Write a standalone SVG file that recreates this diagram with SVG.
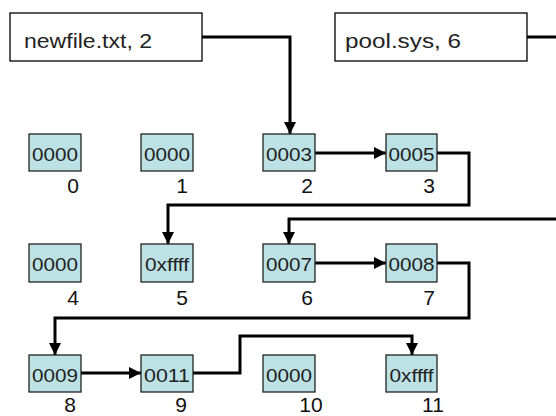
<svg xmlns="http://www.w3.org/2000/svg" width="556" height="416" viewBox="0 0 556 416">
<style>
.file{fill:#fff;stroke:#000;stroke-width:1.3}
.ft{font-family:"Liberation Sans",Arial,sans-serif;font-size:20px;fill:#222}
.blk{fill:#bce2e5;stroke:#222;stroke-width:1.3}
.bt{font-family:"Liberation Sans",Arial,sans-serif;font-size:19px;fill:#222;text-anchor:middle}
.lb{font-family:"Liberation Sans",Arial,sans-serif;font-size:21px;fill:#111;text-anchor:middle}
.c{fill:none;stroke:#000;stroke-width:3}
</style>
<defs>
<marker id="ah" viewBox="0 0 12 12" refX="12" refY="6" markerWidth="12" markerHeight="12" markerUnits="userSpaceOnUse" orient="auto">
<path d="M0,0 L12,6 L0,12 Z" fill="#000"/>
</marker>
</defs>
<g id="connectors">
<path class="c" d="M202,37 H290 V134" marker-end="url(#ah)"/>
<path class="c" d="M527,37 H560"/>
<path class="c" d="M315,153 H386" marker-end="url(#ah)"/>
<path class="c" d="M437,153 H469 V205 H168 V244" marker-end="url(#ah)"/>
<path class="c" d="M560,219 H289 V244" marker-end="url(#ah)"/>
<path class="c" d="M315,263 H386" marker-end="url(#ah)"/>
<path class="c" d="M437,263 H469 V318 H55 V355" marker-end="url(#ah)"/>
<path class="c" d="M81,373 H141" marker-end="url(#ah)"/>
<path class="c" d="M193,373 H240 V336 H412 V355" marker-end="url(#ah)"/>
</g>
<g id="file-newfile"><rect class="file" x="10" y="13" width="192" height="48"/><text class="ft" x="24" y="48" textLength="128" lengthAdjust="spacingAndGlyphs">newfile.txt, 2</text></g>
<g id="file-pool"><rect class="file" x="335" y="13" width="192" height="48"/><text class="ft" x="345" y="48" textLength="116" lengthAdjust="spacingAndGlyphs">pool.sys, 6</text></g>
<g id="b0"><rect class="blk" x="29" y="134" width="52" height="37"/><text class="bt" x="55" y="161" textLength="46" lengthAdjust="spacingAndGlyphs">0000</text><text class="lb" x="73" y="193">0</text></g>
<g id="b1"><rect class="blk" x="141" y="134" width="52" height="37"/><text class="bt" x="167" y="161" textLength="46" lengthAdjust="spacingAndGlyphs">0000</text><text class="lb" x="182" y="193">1</text></g>
<g id="b2"><rect class="blk" x="263" y="134" width="52" height="37"/><text class="bt" x="289" y="161" textLength="46" lengthAdjust="spacingAndGlyphs">0003</text><text class="lb" x="307" y="193">2</text></g>
<g id="b3"><rect class="blk" x="386" y="134" width="51" height="37"/><text class="bt" x="411.5" y="161" textLength="46" lengthAdjust="spacingAndGlyphs">0005</text><text class="lb" x="429" y="193">3</text></g>
<g id="b4"><rect class="blk" x="29" y="244" width="52" height="38"/><text class="bt" x="55" y="271" textLength="46" lengthAdjust="spacingAndGlyphs">0000</text><text class="lb" x="73" y="305">4</text></g>
<g id="b5"><rect class="blk" x="141" y="244" width="52" height="38"/><text class="bt" x="167" y="271" textLength="44" lengthAdjust="spacingAndGlyphs">0xffff</text><text class="lb" x="182" y="305">5</text></g>
<g id="b6"><rect class="blk" x="263" y="244" width="52" height="38"/><text class="bt" x="289" y="271" textLength="46" lengthAdjust="spacingAndGlyphs">0007</text><text class="lb" x="307" y="305">6</text></g>
<g id="b7"><rect class="blk" x="386" y="244" width="51" height="38"/><text class="bt" x="411.5" y="271" textLength="46" lengthAdjust="spacingAndGlyphs">0008</text><text class="lb" x="429" y="305">7</text></g>
<g id="b8"><rect class="blk" x="29" y="355" width="52" height="37"/><text class="bt" x="55" y="382" textLength="46" lengthAdjust="spacingAndGlyphs">0009</text><text class="lb" x="70" y="412">8</text></g>
<g id="b9"><rect class="blk" x="141" y="355" width="52" height="37"/><text class="bt" x="167" y="382" textLength="46" lengthAdjust="spacingAndGlyphs">0011</text><text class="lb" x="181" y="412">9</text></g>
<g id="b10"><rect class="blk" x="263" y="355" width="52" height="37"/><text class="bt" x="289" y="382" textLength="46" lengthAdjust="spacingAndGlyphs">0000</text><text class="lb" x="311" y="412">10</text></g>
<g id="b11"><rect class="blk" x="386" y="355" width="51" height="37"/><text class="bt" x="411.5" y="382" textLength="44" lengthAdjust="spacingAndGlyphs">0xffff</text><text class="lb" x="433" y="412">11</text></g>
</svg>
